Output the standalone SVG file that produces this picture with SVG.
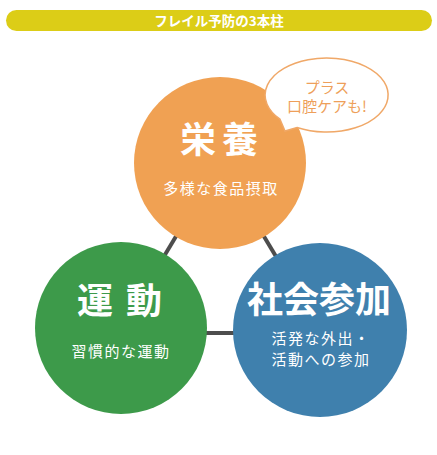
<svg xmlns="http://www.w3.org/2000/svg" width="437" height="455" viewBox="0 0 437 455">
<style>
text{font-family:"Noto Sans CJK JP","Noto Sans",sans-serif;text-anchor:middle;fill:#fff}
.ttl{font-size:36px;font-weight:700}
.sub{font-size:15px;font-weight:400;letter-spacing:1.5px}
.conn{stroke:#4d4d4d;stroke-width:4;fill:none}
.bub{font-size:15px;fill:#ee9f5a}
</style>
<rect width="437" height="455" fill="#fff"/>
<g id="banner">
<rect x="6" y="10" width="426" height="21" rx="10.5" fill="#dccd17"/>
<text x="219" y="25.5" style="font-size:13.5px;font-weight:700">フレイル予防の3本柱</text>
</g>
<g id="connectors">
<line class="conn" x1="220" y1="163" x2="121" y2="328"/>
<line class="conn" x1="220" y1="163" x2="320" y2="330"/>
<line class="conn" x1="121" y1="333" x2="320" y2="333"/>
</g>
<g id="eiyou">
<circle cx="220" cy="163" r="86" fill="#f0a153"/>
<text class="ttl" x="222" y="153" style="letter-spacing:6px">栄養</text>
<text class="sub" x="221" y="194">多様な食品摂取</text>
</g>
<g id="bubble">
<path d="M280,119.2 L285,131 L297,127.5 A61.5,37 0 1 0 280,119.2 Z" fill="#fff" stroke="#f0a868" stroke-width="1.5"/>
<text class="bub" x="327" y="93">プラス</text>
<text class="bub" x="327" y="112">口腔ケアも!</text>
</g>
<g id="undou">
<circle cx="121" cy="328" r="86" fill="#3d9a4a"/>
<text class="ttl" x="126" y="314" style="letter-spacing:13px">運動</text>
<text class="sub" x="121" y="357">習慣的な運動</text>
</g>
<g id="shakai">
<circle cx="320" cy="330" r="87" fill="#3f80ad"/>
<text class="ttl" x="319" y="313">社会参加</text>
<text class="sub" x="321" y="344">活発な外出・</text>
<text class="sub" x="321" y="365">活動への参加</text>
</g>
</svg>
